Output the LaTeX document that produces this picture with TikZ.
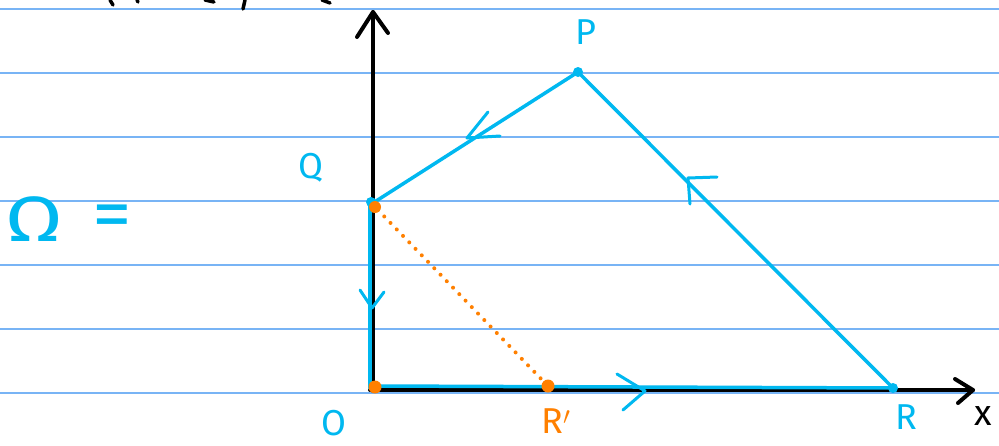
\documentclass[tikz,border=0pt]{standalone}
\usepackage{fontspec}
\setmainfont{Fira Sans}
\definecolor{inkblue}{RGB}{0,184,240}
\definecolor{inkorange}{RGB}{255,128,0}
\definecolor{rule}{RGB}{120,180,245}
\begin{document}
\begin{tikzpicture}[x=1pt,y=-1pt,
  ruleline/.style={rule,line width=1.5},
  axis/.style={black,line width=4,line cap=round,line join=round},
  edge/.style={inkblue,line width=3.5,line cap=round,line join=round},
  chev/.style={inkblue,line width=3,line cap=round,line join=round},
  lab/.style={inkblue,font=\fontsize{36}{40}\selectfont,inner sep=0},
  olab/.style={inkorange,font=\fontsize{36}{40}\selectfont,inner sep=0},
  dotb/.style={circle,fill=inkblue,inner sep=0,minimum size=10},
  doto/.style={circle,fill=inkorange,inner sep=0,minimum size=13}]
\useasboundingbox (0,0) rectangle (999,445);
\fill[white] (0,0) rectangle (999,445);
\foreach \yy in {9,73,137,201,265,329,393}
  \draw[ruleline] (0,\yy) -- (999,\yy);
% cut-off handwriting at the top
\draw[axis,line width=3.5] (110,0) -- (113,5);
\draw[axis,line width=3.5] (137,0) -- (138,2);
\draw[axis,line width=3.5] (205,0) -- (214,2);
\draw[axis,line width=3.5] (245,0) -- (243,9);
\draw[axis,line width=3.5] (322,0) -- (330,3);
% points
\coordinate (O) at (373,388);
\coordinate (Q) at (373,203);
\coordinate (P) at (578,72);
\coordinate (R) at (893,388);
\coordinate (Rp) at (548,386);
\coordinate (ytop) at (373,12);
\coordinate (xend) at (973,390);
% axes
\draw[axis] (373,391) -- (ytop);
\draw[axis] (357,37) -- (ytop) -- (388,33);
\draw[axis] (370,390) -- (xend);
\draw[axis] (955,379) -- (xend) -- (958,403);
\node[font=\fontsize{36}{40}\selectfont,inner sep=0] (xl) at (983,416) {x};
% triangle boundary
\draw[edge] (Q) -- (P) -- (R);
\draw[edge] (370,205) -- (370,388);
\draw[edge] (376,386) -- (R);
% direction marks
\draw[chev] (488,112) -- (467,138) -- (500,136);
\draw[chev] (717,177) -- (688,178) -- (690,204);
\draw[chev] (360,290) -- (372,308) -- (384,292);
\draw[chev] (617,374) -- (645,391) -- (623,410);
% dotted segment
\draw[inkorange,line width=4,line cap=round,dash pattern=on 0pt off 9pt] (378,210) -- (Rp);
% dots
\node[dotb] (Pd) at (P) {};
\node[dotb] (Rd) at (R) {};
\node[dotb] (Qd) at (371,202) {};
\node[doto,minimum size=12] (Qo) at (375,207) {};
\node[doto] (Od) at (375,387) {};
\node[doto] (Rpd) at (Rp) {};
% labels
\node[lab] (Pl) at (586,32) {P};
\node[lab] (Ql) at (311,168) {Q};
\node[lab] (Ol) at (334,423) {O};
\node[lab] (Rl) at (906,417) {R};
\node[olab] (Rpl) at (556,421) {R$'$};
\node[inkblue,font=\fontsize{64}{68}\selectfont,inner sep=0,xscale=1.3] (Om) at (34,219) {Ω};
\node[inkblue,font=\fontsize{72}{76}\selectfont,inner sep=0,xscale=1.1] (eq) at (112,222) {=};
\end{tikzpicture}
\end{document}
